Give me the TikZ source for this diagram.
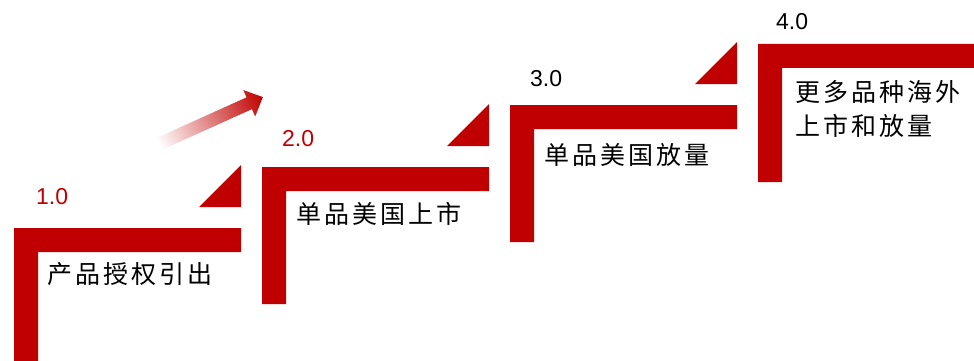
\documentclass[tikz,border=0pt]{standalone}
\usepackage{fontspec}
\setmainfont{Liberation Sans}
\newfontfamily\cjkfont[LetterSpace=12]{Noto Sans CJK SC}
\usetikzlibrary{positioning, calc}
\definecolor{stepred}{HTML}{C00000}

\begin{document}
\begin{tikzpicture}[
    x=1pt, y=-1pt,
    bar/.style={fill=stepred, draw=none},
    tri/.style={fill=stepred, draw=none},
    num/.style={inner sep=0pt, font=\fontsize{23}{27}\selectfont},
    desc/.style={inner sep=0pt, align=left, font=\cjkfont\fontsize{25}{34}\selectfont}
]
    \useasboundingbox (0,0) rectangle (974,361);

    % Step 1
    \coordinate (s1) at (14,228);
    \fill[bar] (s1) -- ++(227,0) -- ++(0,24) -- ++(-203,0) -- ++(0,109) -- ++(-24,0) -- cycle;
    \fill[tri] ($(s1)+(185,-21)$) -- ++(42,-42) -- ++(0,42) -- cycle;
    \node[num, text=stepred, above right=23pt and 22pt of s1] (num1) {1.0};
    \node[desc, below right=34pt and 33pt of s1] (txt1) {产品授权引出};

    % Step 2
    \coordinate (s2) at (262,167);
    \fill[bar] (s2) -- ++(227,0) -- ++(0,24) -- ++(-203,0) -- ++(0,113) -- ++(-24,0) -- cycle;
    \fill[tri] ($(s2)+(185,-21)$) -- ++(42,-42) -- ++(0,42) -- cycle;
    \node[num, text=stepred, above right=20pt and 20pt of s2] (num2) {2.0};
    \node[desc, below right=35pt and 34pt of s2] (txt2) {单品美国上市};

    % Step 3
    \coordinate (s3) at (510,105);
    \fill[bar] (s3) -- ++(227,0) -- ++(0,24) -- ++(-203,0) -- ++(0,113) -- ++(-24,0) -- cycle;
    \fill[tri] ($(s3)+(185,-21)$) -- ++(42,-42) -- ++(0,42) -- cycle;
    \node[num, above right=18pt and 20pt of s3] (num3) {3.0};
    \node[desc, below right=38pt and 34pt of s3] (txt3) {单品美国放量};

    % Step 4
    \coordinate (s4) at (758,44);
    \fill[bar] (s4) -- (974,44) -- (974,68) -- ++(-192,0) -- ++(0,114) -- ++(-24,0) -- cycle;
    \node[num, above right=14pt and 18pt of s4] (num4) {4.0};
    \node[desc, below right=36pt and 37pt of s4] (txt4) {更多品种海外\\上市和放量};

    % Rising arrow
    \begin{scope}[transform canvas={shift={(159,144)}, rotate=24.3}]
        \shade[left color=white, middle color=stepred!30, right color=stepred]
            (0,-6.5) -- (99,-6.5) -- (99,-14.5) -- (114,0) -- (99,14.5) -- (99,6.5) -- (0,6.5) -- cycle;
    \end{scope}
\end{tikzpicture}
\end{document}
